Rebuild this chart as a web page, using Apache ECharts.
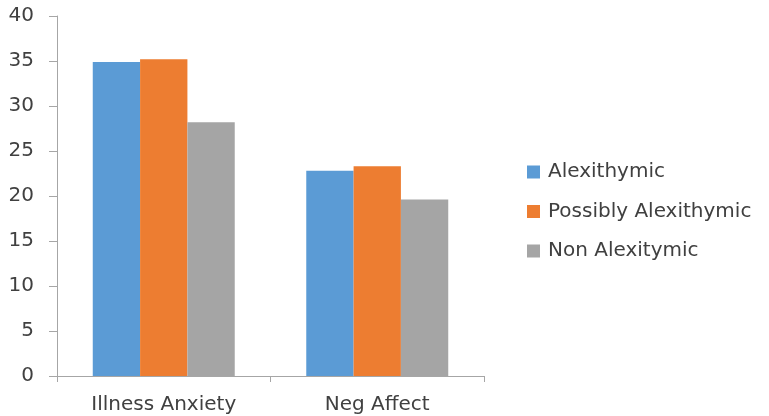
<!DOCTYPE html>
<html><head><meta charset="utf-8">
<script src="https://cdn.jsdelivr.net/npm/echarts@6/dist/echarts.min.js"></script>
<style>html,body{margin:0;padding:0;background:#fff}#c{width:769px;height:416px}</style>
</head><body><div id="c"></div>
<script>
const categories = ["Illness Anxiety", "Neg Affect"];
const seriesNames = ["Alexithymic", "Possibly Alexithymic", "Non Alexitymic"];
const alexithymic = [34.9, 22.8];
const possiblyAlexithymic = [35.2, 23.3];
const nonAlexitymic = [28.2, 19.6];
const yTicks = [0, 5, 10, 15, 20, 25, 30, 35, 40];
const colors = ["#5B9BD5", "#ED7D31", "#A5A5A5"];
const font = "'DejaVu Sans', sans-serif";
const chart = echarts.init(document.getElementById('c'));
const values = [alexithymic, possiblyAlexithymic, nonAlexitymic];
chart.setOption({
  animation: false,
  color: colors,
  grid: {left: 57, right: 285, top: 16, bottom: 40},
  legend: {
    orient: 'vertical', left: 527, top: 162, itemGap: 19.5, padding: 0,
    itemWidth: 13, itemHeight: 13, icon: 'rect',
    textStyle: {fontFamily: font, fontSize: 20, color: '#404040', padding: [0,0,0,3]},
    data: seriesNames
  },
  xAxis: {
    type: 'category', data: categories,
    axisLine: {lineStyle: {color: '#A6A6A6', width: 1}},
    axisTick: {show: true, length: 6, lineStyle: {color: '#A6A6A6'}},
    axisLabel: {fontFamily: font, fontSize: 20, color: '#404040', margin: 19}
  },
  yAxis: {
    type: 'value', min: yTicks[0], max: yTicks[yTicks.length-1], interval: 5,
    splitLine: {show: false},
    axisLine: {show: true, lineStyle: {color: '#A6A6A6', width: 1}},
    axisTick: {show: true, length: 8, lineStyle: {color: '#A6A6A6'}},
    axisLabel: {fontFamily: font, fontSize: 20, color: '#404040', margin: 23}
  },
  series: seriesNames.map((n, i) => ({
    name: n, type: 'bar', data: values[i],
    barGap: '0%', barCategoryGap: '33.5%'
  }))
});
</script></body></html>
